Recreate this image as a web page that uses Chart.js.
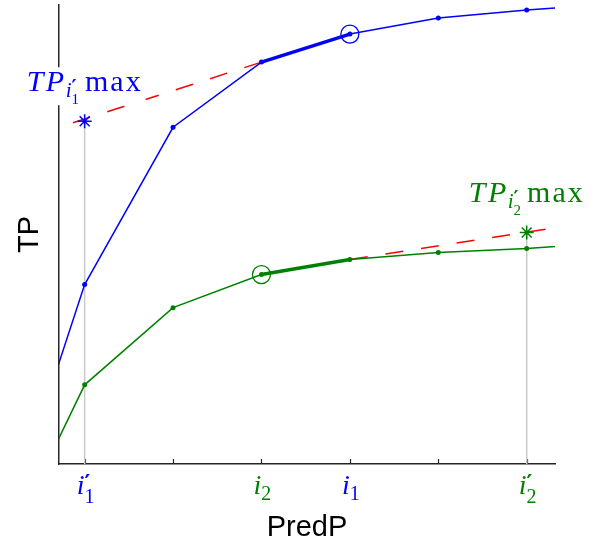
<!DOCTYPE html>
<html><head><meta charset="utf-8">
<script src="https://cdn.jsdelivr.net/npm/chart.js@4/dist/chart.umd.min.js"></script>
<style>html,body{margin:0;padding:0;background:#fff}canvas{display:block}</style>
</head><body>
<canvas id="c" width="590" height="549"></canvas>
<script>
// ---- data ----
const predP      = [0, 1, 2, 3, 4, 5, 6, 7];
const tpBlue     = [-90, 179, 336, 401, 429, 445, 453, 459];
const tpGreen    = [-104, 79, 156, 189, 204, 211, 215, 221];
const tangentBlueX  = [3, 0.71];
const tangentBlueY  = [401, 336];
const tangentGreenX = [4, 6.26];
const tangentGreenY = [204, 235];
const maxBlueX = 1,  maxBlueY = 342;
const maxGreenX = 6, maxGreenY = 231;
const tickValues = [1, 2, 3, 4, 5, 6];
const tickLabelValues = [1, 3, 4, 6];
const tickLabelMain = ['i', 'i', 'i', 'i'];
const tickLabelPrime = ['′', '', '', '′'];
const tickLabelSub = ['1', '2', '1', '2'];
const xTitle = 'PredP';
const yTitle = 'TP';

const BLUE = '#0000ff', GREEN = '#008000', RED = '#ff0000', GRAY = '#c8c8c8';
const SERIF = '"Liberation Serif", "Times New Roman", serif';
const PRIME_FONT = '"DejaVu Sans", sans-serif';

const pts = (xs, ys) => xs.map((x, i) => ({x, y: ys[i]}));
const mainIdx = predP.map(v => (v >= 1 && v <= 6) ? 2.5 : 0);

function textW(ctx, q) {
  ctx.font = q.f; ctx.letterSpacing = (q.ls || 0) + 'px';
  const w = ctx.measureText(q.t).width;
  ctx.letterSpacing = '0px';
  return w;
}
function measureParts(ctx, parts) {
  let w = 0;
  for (const p of parts) {
    if (p.gap) { w += p.gap; continue; }
    w += (p.dx || 0);
    if (p.stack) {
      let m = 0;
      for (const q of p.stack) { if (!q.t) continue; m = Math.max(m, textW(ctx, q) + (q.dx || 0)); }
      w += m;
    } else { w += textW(ctx, p); }
  }
  return w;
}
function drawText(ctx, q, x, y) {
  ctx.font = q.f; ctx.letterSpacing = (q.ls || 0) + 'px';
  ctx.fillText(q.t, x, y);
  ctx.letterSpacing = '0px';
}
function drawParts(ctx, parts, cx, by, color) {
  const w = measureParts(ctx, parts);
  let x = cx - w / 2;
  ctx.fillStyle = color; ctx.textAlign = 'left'; ctx.textBaseline = 'alphabetic';
  for (const p of parts) {
    if (p.gap) { x += p.gap; continue; }
    x += (p.dx || 0);
    if (p.stack) {
      let m = 0;
      for (const q of p.stack) {
        if (!q.t) continue;
        drawText(ctx, q, x + (q.dx || 0), by + q.dy);
        m = Math.max(m, textW(ctx, q) + (q.dx || 0));
      }
      x += m;
    } else { drawText(ctx, p, x, by + (p.dy || 0)); x += textW(ctx, p); }
  }
  return w;
}
function tpMaxParts(sub) {
  return [
    {t: 'TP', f: 'italic 30px ' + SERIF, ls: 2.5},
    {t: 'i', f: 'italic 21px ' + SERIF, dy: 6, dx: -1},
    {stack: [{t: '′', f: 'bold 19px ' + PRIME_FONT, dy: 2, dx: 0}, {t: sub, f: '15px ' + SERIF, dy: 13, dx: 0}]},
    {gap: 6},
    {t: 'max', f: '30px ' + SERIF, ls: 2}
  ];
}

const annotPlugin = {
  id: 'annot',
  beforeDatasetsDraw(chart) {
    const {ctx, chartArea, scales: {x}} = chart;
    ctx.save();
    ctx.strokeStyle = '#262626'; ctx.lineWidth = 1.2;
    for (const v of tickValues) {
      const px = Math.round(x.getPixelForValue(v)) + 0.5;
      ctx.beginPath(); ctx.moveTo(px, chartArea.bottom); ctx.lineTo(px, chartArea.bottom - 5); ctx.stroke();
    }
    ctx.restore();
  },
  afterDraw(chart) {
    const {ctx, chartArea, scales: {x, y}} = chart;
    ctx.save();
    // x tick labels
    tickLabelValues.forEach((v, i) => {
      const color = (tickLabelSub[i] === '1') ? BLUE : GREEN;
      const parts = [
        {t: tickLabelMain[i], f: 'italic 28px ' + SERIF},
        {stack: [{t: tickLabelPrime[i], f: 'bold 22px ' + PRIME_FONT, dy: -4, dx: 0},
                 {t: tickLabelSub[i], f: '20px ' + SERIF, dy: tickLabelPrime[i] ? 9 : 6, dx: 0}]}
      ];
      drawParts(ctx, parts, x.getPixelForValue(v) + 1, chartArea.bottom + 30, color);
    });
    // TP max labels
    const labs = [
      {x: maxBlueX, y: maxBlueY, sub: '1', color: BLUE},
      {x: maxGreenX, y: maxGreenY, sub: '2', color: GREEN}
    ];
    for (const L of labs) {
      const cx = x.getPixelForValue(L.x), cy = y.getPixelForValue(L.y);
      const by = cy - 30;
      const parts = tpMaxParts(L.sub);
      const w = measureParts(ctx, parts);
      ctx.fillStyle = '#fff';
      ctx.fillRect(cx - w / 2 - 3, by - 24, w + 6, 38);
      drawParts(ctx, parts, cx, by, L.color);
    }
    ctx.restore();
  }
};

new Chart(document.getElementById('c'), {
  type: 'line',
  data: {
    datasets: [
      {data: [{x: maxBlueX, y: maxBlueY}], showLine: false, pointStyle: 'star', pointRadius: 7, borderColor: BLUE, pointBorderWidth: 1.5, backgroundColor: BLUE},
      {data: [{x: maxGreenX, y: maxGreenY}], showLine: false, pointStyle: 'star', pointRadius: 7, borderColor: GREEN, pointBorderWidth: 1.5, backgroundColor: GREEN},
      {data: [{x: predP[4], y: tpBlue[4]}], showLine: false, pointStyle: 'circle', pointRadius: 9, borderColor: BLUE, pointBorderWidth: 1.3, backgroundColor: 'rgba(0,0,0,0)'},
      {data: [{x: predP[3], y: tpGreen[3]}], showLine: false, pointStyle: 'circle', pointRadius: 9, borderColor: GREEN, pointBorderWidth: 1.3, backgroundColor: 'rgba(0,0,0,0)'},
      {data: pts(predP.slice(3, 5), tpBlue.slice(3, 5)), borderColor: BLUE, borderWidth: 3.5, pointRadius: 0},
      {data: pts(predP.slice(3, 5), tpGreen.slice(3, 5)), borderColor: GREEN, borderWidth: 3.5, pointRadius: 0},
      {data: pts(predP, tpBlue), borderColor: BLUE, borderWidth: 1.5, pointRadius: mainIdx, pointBackgroundColor: BLUE, pointBorderWidth: 0},
      {data: pts(predP, tpGreen), borderColor: GREEN, borderWidth: 1.5, pointRadius: mainIdx, pointBackgroundColor: GREEN, pointBorderWidth: 0},
      {data: pts(tangentBlueX, tangentBlueY), borderColor: RED, borderWidth: 1.5, borderDash: [18, 18], pointRadius: 0},
      {data: pts(tangentGreenX, tangentGreenY), borderColor: RED, borderWidth: 1.5, borderDash: [18, 18], pointRadius: 0},
      {data: [{x: maxBlueX, y: 0}, {x: maxBlueX, y: maxBlueY}], borderColor: GRAY, borderWidth: 1.5, pointRadius: 0},
      {data: [{x: maxGreenX, y: 0}, {x: maxGreenX, y: maxGreenY}], borderColor: GRAY, borderWidth: 1.5, pointRadius: 0}
    ]
  },
  options: {
    responsive: false,
    animation: false,
    events: [],
    layout: {autoPadding: false, padding: {left: 0, right: 35, top: 5, bottom: 0}},
    elements: {line: {tension: 0}},
    plugins: {legend: {display: false}, tooltip: {enabled: false}},
    scales: {
      x: {
        type: 'linear', min: 0.71, max: 6.32,
        afterBuildTicks: s => { s.ticks = tickValues.map(v => ({value: v})); },
        ticks: {display: false},
        grid: {display: false, drawTicks: false},
        border: {display: true, color: '#262626', width: 1.5},
        title: {display: true, text: xTitle, color: '#000', font: {family: '"Liberation Sans", Arial, sans-serif', size: 29}, padding: {top: 46.6, bottom: 3.6}}
      },
      y: {
        type: 'linear', min: 0, max: 458,
        ticks: {display: false},
        grid: {display: false, drawTicks: false},
        border: {display: true, color: '#262626', width: 1.5},
        title: {display: true, text: yTitle, color: '#000', font: {family: '"Liberation Sans", Arial, sans-serif', size: 29}, padding: {top: 12.6, bottom: 11.6}}
      }
    }
  },
  plugins: [annotPlugin]
});
</script>
</body></html>
